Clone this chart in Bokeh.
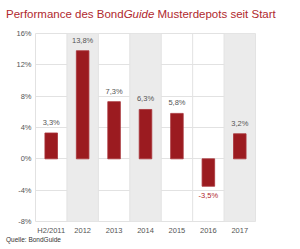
from bokeh.plotting import figure
from bokeh.models import Span, ColumnDataSource, FixedTicker, Div
from bokeh.layouts import column
from bokeh.core.properties import value
from bokeh.embed import file_html
from bokeh.resources import INLINE

categories = ["H2/2011", "2012", "2013", "2014", "2015", "2016", "2017"]
values = [3.3, 13.8, 7.3, 6.3, 5.8, -3.5, 3.2]
shaded = ["2012", "2014", "2017"]
y_ticks = [-8, -4, 0, 4, 8, 12, 16]

FONT = "Liberation Sans"
W = 300
TITLE_H, FIG_H, SRC_H = 22, 215, 12
L, R, T, B = 35, 45, 11, 15
YMIN, YMAX = -8, 16

p = figure(x_range=categories, y_range=(YMIN, YMAX), width=W, height=FIG_H,
           output_backend="svg", toolbar_location=None,
           min_border_left=L, min_border_right=R, min_border_top=T, min_border_bottom=B)
p.x_range.range_padding = 0
p.background_fill_color = "white"
p.border_fill_color = "white"
p.outline_line_color = "#e2e2e2"
p.outline_line_width = 1

# shaded columns
p.vbar(x=shaded, top=YMAX, bottom=YMIN, width=1.0, fill_color="#ebebeb", line_color=None)

# grids
p.xgrid.visible = False
p.ygrid.ticker = FixedTicker(ticks=y_ticks)
p.ygrid.grid_line_color = "#e2e2e2"
p.ygrid.grid_line_width = 1
for i in range(len(categories) + 1):
    p.add_layout(Span(location=i, dimension="height", line_color="#e2e2e2", line_width=1))

# bars
src = ColumnDataSource(dict(x=categories, top=values))
p.vbar(x="x", top="top", bottom=0, width=0.4, source=src,
       fill_color="#9b1b20", line_color="#a8343a", line_width=0.8)

def fmt(v):
    return ("%.1f" % v).replace(".", ",") + "%"

pos = ColumnDataSource(dict(
    x=[c for c, v in zip(categories, values) if v >= 0],
    y=[v for v in values if v >= 0],
    t=[fmt(v) for v in values if v >= 0]))
neg = ColumnDataSource(dict(
    x=[c for c, v in zip(categories, values) if v < 0],
    y=[v for v in values if v < 0],
    t=[fmt(v) for v in values if v < 0]))
p.text(x="x", y="y", text="t", source=pos, text_align="center", text_baseline="bottom",
       y_offset=-6, text_font=value(FONT), text_font_size="7.5px", text_color="#555555")
p.text(x="x", y="y", text="t", source=neg, text_align="center", text_baseline="top",
       y_offset=5, text_font=value(FONT), text_font_size="7.5px", text_color="#b0282e")

# axes
p.yaxis.ticker = FixedTicker(ticks=y_ticks)
p.yaxis.major_label_overrides = {t: "%d%%" % t for t in y_ticks}
for ax in (p.xaxis[0], p.yaxis[0]):
    ax.axis_line_color = None
    ax.major_tick_line_color = None
    ax.minor_tick_line_color = None
    ax.major_tick_out = 0
    ax.major_tick_in = 0
    ax.minor_tick_out = 0
    ax.minor_tick_in = 0
    ax.major_label_text_font = FONT
    ax.major_label_text_font_size = "7.5px"
    ax.major_label_text_color = "#555555"
p.yaxis.major_label_standoff = 4
p.xaxis.major_label_standoff = 4

title = Div(text="Performance des Bond<i>Guide</i> Musterdepots seit Start",
            width=W, height=TITLE_H, margin=(0, 0, 0, 0),
            styles={"font-family": FONT, "font-size": "11.5px", "color": "#b0282e",
                    "line-height": "1", "padding-left": "6px", "padding-top": "9px",
                    "white-space": "nowrap", "box-sizing": "border-box"})
source = Div(text="Quelle: BondGuide", width=W, height=SRC_H, margin=(0, 0, 0, 0),
             styles={"font-family": FONT, "font-size": "6.5px", "color": "#333333",
                     "line-height": "1", "padding-left": "6px", "padding-top": "0px",
                     "white-space": "nowrap", "box-sizing": "border-box"})

layout = column(title, p, source, spacing=0, margin=(0, 0, 0, 0))

open("out.html", "w").write(file_html(layout, INLINE))
